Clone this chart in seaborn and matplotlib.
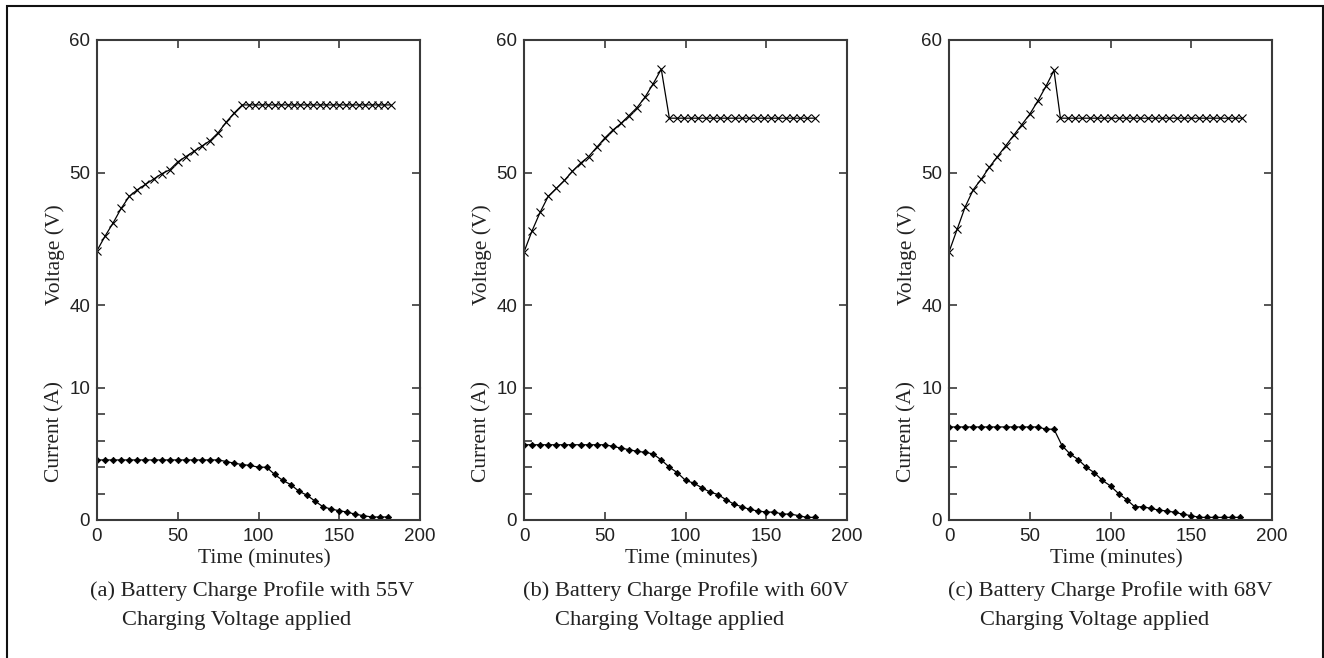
import matplotlib
matplotlib.use('Agg')
import matplotlib.pyplot as plt
import seaborn as sns
import pandas as pd
from matplotlib.patches import Rectangle

# time axis (minutes) for the current samples
t_cur = [0, 5, 10, 15, 20, 25, 30, 35, 40, 45, 50, 55, 60, 65, 70, 75, 80, 85, 90,
         95, 100, 105, 110, 115, 120, 125, 130, 135, 140, 145, 150, 155, 160, 165,
         170, 175, 180]

cur_a = [4.55] * 16 + [4.43, 4.3, 4.2, 4.13, 4.0, 4.0, 3.45, 3.0, 2.68, 2.18, 1.88,
                       1.43, 1.0, 0.83, 0.7, 0.6, 0.43, 0.33, 0.23, 0.23, 0.23]
cur_b = [5.7] * 11 + [5.58, 5.45, 5.33, 5.2, 5.13, 5.0, 4.55, 4.0, 3.58, 3.0, 2.8, 2.45,
                      2.13, 1.93, 1.55, 1.2, 1.0, 0.8, 0.68, 0.6, 0.6, 0.45, 0.45, 0.33,
                      0.2, 0.2]
cur_c = [7.05] * 12 + [6.88, 6.88, 5.63, 5.0, 4.58, 4.0, 3.58, 3.0, 2.58, 2.0, 1.55, 1.0,
                       1.0, 0.88, 0.75, 0.68, 0.58, 0.43, 0.33, 0.2, 0.2, 0.2, 0.2, 0.2,
                       0.2]

# voltage: rising (bulk) part
t_rise_ab = [0, 5, 10, 15, 20, 25, 30, 35, 40, 45, 50, 55, 60, 65, 70, 75, 80, 85]
t_rise_c = [0, 5, 10, 15, 20, 25, 30, 35, 40, 45, 50, 55, 60, 65]
v_rise_a = [44.1, 45.2, 46.2, 47.3, 48.2, 48.7, 49.1, 49.5, 49.9, 50.2, 50.8, 51.2,
            51.6, 52.0, 52.4, 53.0, 53.8, 54.5]
v_rise_b = [44.0, 45.6, 47.0, 48.2, 48.8, 49.4, 50.1, 50.7, 51.2, 51.9, 52.6, 53.2,
            53.7, 54.3, 54.9, 55.7, 56.7, 57.8]
v_rise_c = [44.0, 45.7, 47.4, 48.7, 49.5, 50.4, 51.2, 52.0, 52.8, 53.6, 54.4, 55.4,
            56.5, 57.7]

# voltage: float part (densely sampled)
t_flat_a = [90, 94, 98, 102, 106, 110, 114, 118, 122, 126, 130, 134, 138, 142, 146,
            150, 154, 158, 162, 166, 170, 174, 178, 182]
t_flat_b = [90, 94.5, 99, 103.5, 108, 112.5, 117, 121.5, 126, 130.5, 135, 139.5, 144,
            148.5, 153, 157.5, 162, 166.5, 171, 175.5, 180]
t_flat_c = [69, 73.5, 78, 82.5, 87, 91.5, 96, 100.5, 105, 109.5, 114, 118.5, 123,
            127.5, 132, 136.5, 141, 145.5, 150, 154.5, 159, 163.5, 168, 172.5, 177,
            181.5]
v_flat = [55.1, 54.1, 54.1]

captions = [("(a) Battery Charge Profile with 55V", "Charging Voltage applied"),
            ("(b) Battery Charge Profile with 60V", "Charging Voltage applied"),
            ("(c) Battery Charge Profile with 68V", "Charging Voltage applied")]

panels = [
    (t_rise_ab, v_rise_a, t_flat_a, v_flat[0], cur_a),
    (t_rise_ab, v_rise_b, t_flat_b, v_flat[1], cur_b),
    (t_rise_c, v_rise_c, t_flat_c, v_flat[2], cur_c),
]

sns.set_style('ticks')
plt.rcParams['font.family'] = ['Liberation Sans', 'DejaVu Sans']

W, H = 1324, 658
fig = plt.figure(figsize=(W / 100, H / 100), dpi=100)
fig.patch.set_facecolor('white')

lefts = [97, 524, 949]
cap_x = [90, 523, 948]
cap2_x = [122, 555, 980]
aw = 323
top, vbot, split, bot = 40, 305, 388, 520
serif = ['Liberation Serif', 'DejaVu Serif']
spine_c = '#3a3a3a'
v_lo = 40 - (split - vbot) / (vbot - top) * 20

for k, (tr, vr, tf, vf, cur) in enumerate(panels):
    L = lefts[k]
    ax_v = fig.add_axes([L / W, 1 - split / H, aw / W, (split - top) / H])
    ax_i = fig.add_axes([L / W, 1 - bot / H, aw / W, (bot - split) / H])

    dv = pd.DataFrame({'t': list(tr) + list(tf), 'v': list(vr) + [vf] * len(tf)})
    di = pd.DataFrame({'t': t_cur, 'i': cur})

    sns.lineplot(data=dv, x='t', y='v', ax=ax_v, color='black', lw=0.9,
                 marker='x', markersize=6.2, markeredgecolor='black',
                 markeredgewidth=0.8)
    sns.lineplot(data=di, x='t', y='i', ax=ax_i, color='black', lw=0.9,
                 marker='D', markersize=3.2, markeredgecolor='black',
                 markerfacecolor='black', markeredgewidth=0.6)

    for ax in (ax_v, ax_i):
        ax.set_xlim(0, 200)
        ax.set_xticks([0, 50, 100, 150, 200])
        ax.set_xlabel('')
        ax.set_ylabel('')
        ax.set_facecolor('none')
        for s in ax.spines.values():
            s.set_color(spine_c)
            s.set_linewidth(1.5)
        ax.tick_params(direction='in', length=6, width=1.2, color=spine_c,
                       labelsize=13.5, labelcolor='#222222', pad=5,
                       left=True, right=True)

    ax_v.set_ylim(v_lo, 60)
    ax_v.set_yticks([40, 50, 60])
    ax_v.spines['bottom'].set_visible(False)
    ax_v.tick_params(top=True, bottom=False, labelbottom=False)

    ax_i.set_ylim(0, 10)
    ax_i.set_yticks([0, 2, 4, 6, 8, 10])
    ax_i.set_yticklabels(['0', '', '', '', '', '10'])
    ax_i.spines['top'].set_visible(False)
    ax_i.tick_params(axis='x', top=False, bottom=True, pad=6)

    fig.text((L - 42) / W, 1 - 255 / H, 'Voltage (V)', rotation=90, ha='center',
             va='center', family=serif, fontsize=15.5, color='#222222')
    fig.text((L - 42) / W, 1 - 432 / H, 'Current (A)', rotation=90, ha='center',
             va='center', family=serif, fontsize=15.5, color='#222222')
    fig.text((L + 167) / W, 1 - 559 / H, 'Time (minutes)', ha='center',
             va='center', family=serif, fontsize=15.5, color='#222222')
    fig.text(cap_x[k] / W, 1 - 591 / H, captions[k][0], ha='left', va='center',
             family=serif, fontsize=16.2, color='#222222')
    fig.text(cap2_x[k] / W, 1 - 620 / H, captions[k][1], ha='left', va='center',
             family=serif, fontsize=16.2, color='#222222')

fig.patches.append(Rectangle((7 / W, 1 - 664 / H), (1323 - 7) / W, (664 - 6) / H,
                             transform=fig.transFigure, fill=False,
                             ec='#111111', lw=1.5))

plt.savefig('out.png', dpi=100)
